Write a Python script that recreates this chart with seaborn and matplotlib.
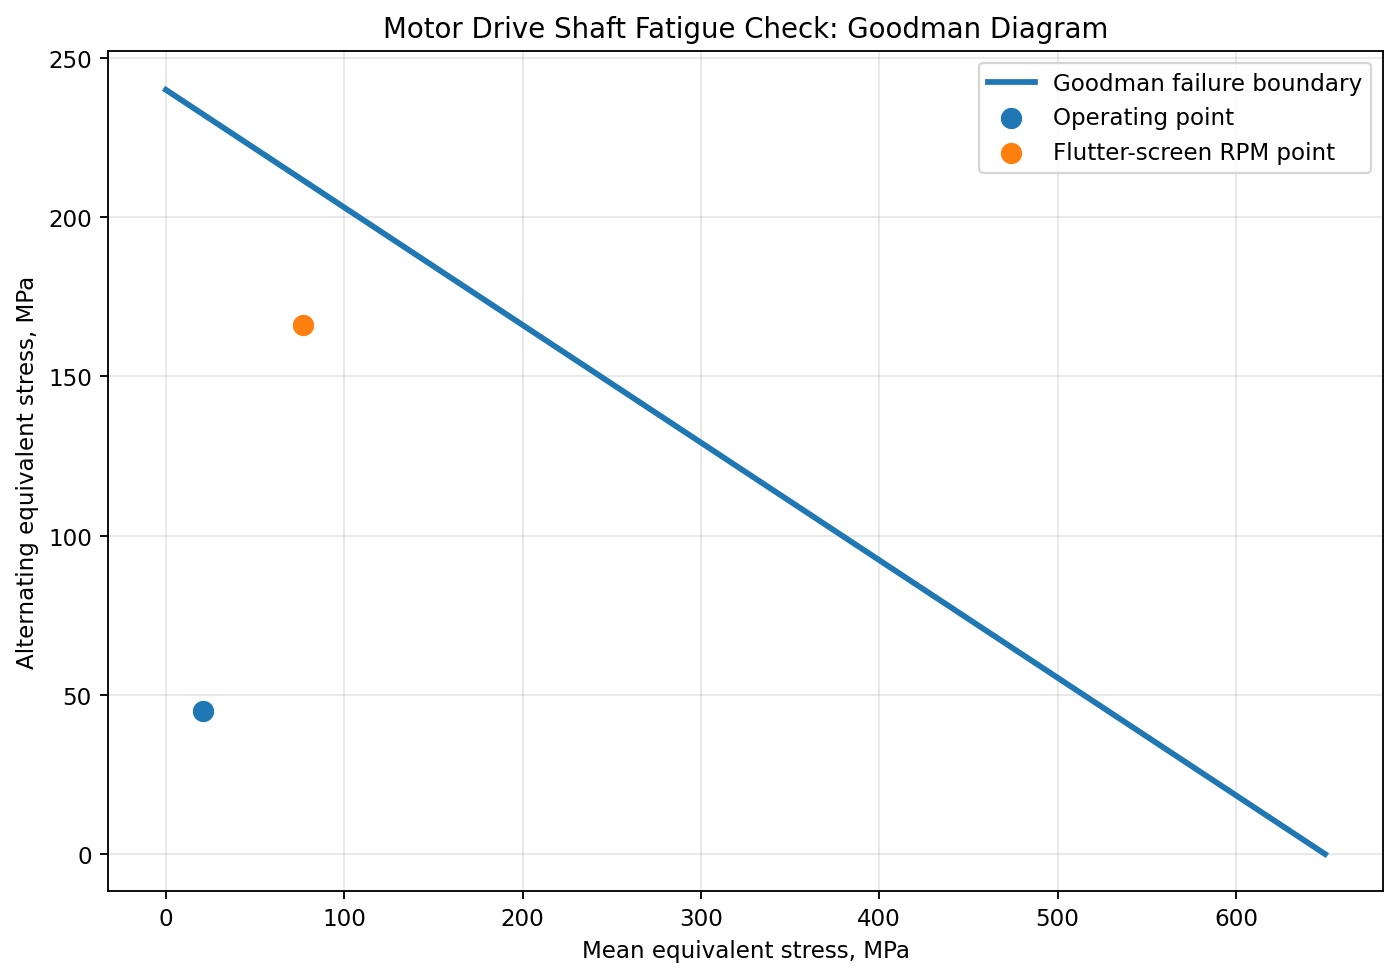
import matplotlib
matplotlib.use("Agg")
import matplotlib.pyplot as plt
import seaborn as sns
import pandas as pd

# Data
goodman_mean = [0, 650]
goodman_alt = [240, 0]
op_mean = [21]
op_alt = [45]
flutter_mean = [77]
flutter_alt = [166]

plt.rcParams['font.family'] = ['DejaVu Sans']

DPI = 166
fig, ax = plt.subplots(figsize=(1400 / DPI, 979 / DPI), dpi=DPI)

line_df = pd.DataFrame({"mean": goodman_mean, "alt": goodman_alt})
sns.lineplot(data=line_df, x="mean", y="alt", ax=ax, color="#1f77b4", lw=2.5,
             label="Goodman failure boundary")
sns.scatterplot(x=op_mean, y=op_alt, ax=ax, color="#1f77b4", s=95, zorder=3,
                edgecolor="white", linewidth=0.5, label="Operating point")
sns.scatterplot(x=flutter_mean, y=flutter_alt, ax=ax, color="#ff7f0e", s=95, zorder=3,
                edgecolor="white", linewidth=0.5, label="Flutter-screen RPM point")

ax.set_title("Motor Drive Shaft Fatigue Check: Goodman Diagram")
ax.set_xlabel("Mean equivalent stress, MPa")
ax.set_ylabel("Alternating equivalent stress, MPa")
ax.set_xlim(-32.5, 682.5)
ax.set_ylim(-11.6, 252.2)
ax.set_yticks([0, 50, 100, 150, 200, 250])
ax.grid(True, alpha=0.3)
ax.legend(loc="upper right")

fig.subplots_adjust(left=108 / 1400, right=1383 / 1400, top=1 - 52 / 979, bottom=1 - 892 / 979)
fig.savefig("out.png", dpi=DPI)
